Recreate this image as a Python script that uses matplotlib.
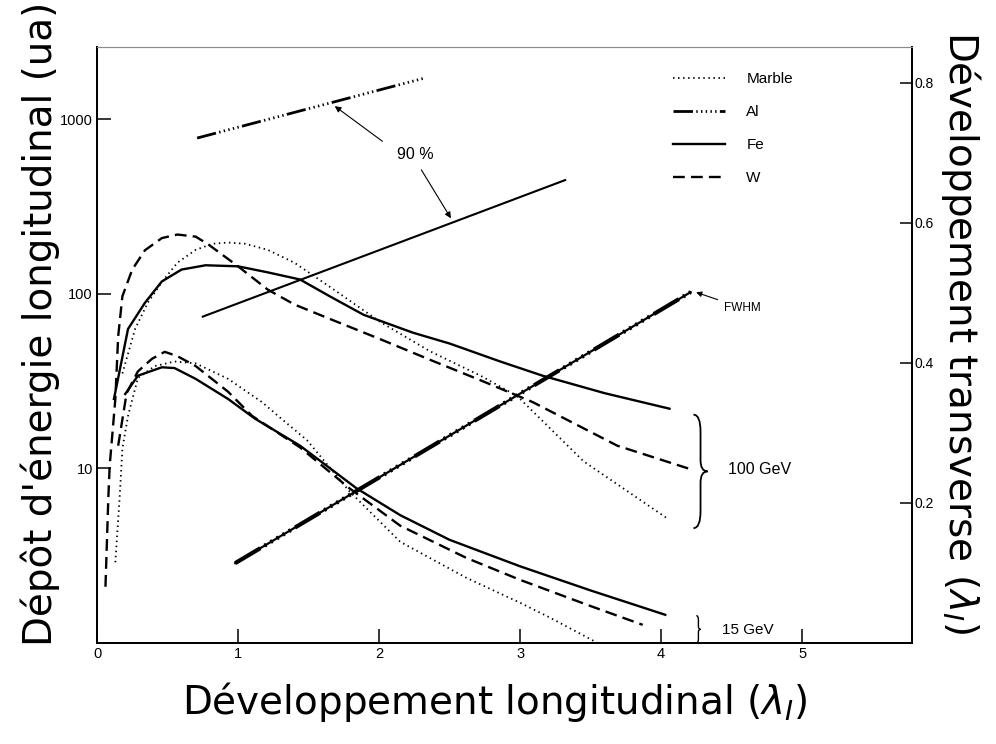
import matplotlib
matplotlib.use("Agg")
import matplotlib.pyplot as plt
from matplotlib.path import Path
from matplotlib.patches import PathPatch
from matplotlib.ticker import NullLocator

# longitudinal profiles (left axis, log scale)
fe100_x = [0.12, 0.22, 0.34, 0.46, 0.60, 0.77, 1.00, 1.21, 1.44, 1.65, 1.89, 2.24, 2.50, 2.86, 3.16, 3.60, 4.06]
fe100_y = [25, 63, 89, 118, 138, 146, 144, 133, 121, 97, 76, 60, 52, 41, 34, 27, 22]

w100_x = [0.06, 0.08, 0.09, 0.13, 0.15, 0.18, 0.25, 0.34, 0.46, 0.57, 0.70, 0.79, 1.00, 1.21, 1.40,
          1.65, 2.01, 2.36, 2.72, 3.09, 3.69, 4.21]
w100_y = [2.1, 6.7, 10.4, 25, 57, 97, 138, 178, 209, 219, 213, 192, 144, 106, 87,
          72, 55, 42, 32, 24, 13.5, 9.9]

marble100_x = [0.18, 0.27, 0.36, 0.46, 0.57, 0.70, 0.82, 0.93, 1.05, 1.21, 1.40, 1.65, 2.01, 2.36,
               2.72, 2.98, 3.45, 4.04]
marble100_y = [35, 63, 89, 117, 151, 179, 194, 197, 194, 179, 151, 110, 69, 47, 34, 26, 11, 5.2]

fe15_x = [0.20, 0.29, 0.46, 0.55, 0.70, 0.93, 1.12, 1.44, 1.84, 2.15, 2.50, 3.00, 3.50, 4.03]
fe15_y = [26.7, 34, 38, 37.6, 32.6, 25, 19.3, 13.5, 7.7, 5.4, 3.9, 2.75, 2.0, 1.45]

w15_x = [0.15, 0.21, 0.29, 0.39, 0.48, 0.57, 0.70, 0.93, 1.10, 1.44, 1.79, 2.15, 2.62, 3.00, 3.48, 3.87]
w15_y = [13.5, 27, 36, 42.5, 46.6, 44, 38.6, 27.5, 20, 13.2, 7.7, 4.7, 3.07, 2.3, 1.65, 1.27]

marble15_x = [0.13, 0.16, 0.18, 0.22, 0.29, 0.41, 0.55, 0.70, 0.93, 1.17, 1.30, 1.49, 1.79, 2.15,
              2.62, 3.00, 3.21, 3.55]
marble15_y = [2.9, 6.7, 13, 20, 33, 38.6, 41, 40, 32.6, 24, 19.5, 14.5, 7.4, 3.8, 2.36, 1.7, 1.4, 1.0]

# transverse development (right axis, linear)
al90_x = [0.71, 2.31]
al90_y = [0.721, 0.806]
fe90_x = [0.75, 3.32]
fe90_y = [0.466, 0.661]
fwhm_x = [0.98, 4.21]
fwhm_y = [0.114, 0.501]

xticks = [0, 1, 2, 3, 4, 5]
yticks_left = [10, 100, 1000]
yticks_right = [0.2, 0.4, 0.6, 0.8]

plt.rcParams['font.family'] = ['Liberation Sans', 'DejaVu Sans']

DOT = (0, (0.8, 2.0))
DASH = (0, (5, 2.6))
AL = (0, (7, 1.2, 0.5, 1.2, 0.5, 1.2, 0.5, 1.2, 0.5, 1.2, 0.5, 1.2))


def brace(axis, x, y0, y1, w, lw=1.3):
    """right facing curly brace between y0 and y1"""
    h = y1 - y0
    ym = (y0 + y1) / 2
    xm = x + w / 2
    verts = [(x, y0), (xm, y0), (xm, y0 + 0.15 * h),
             (xm, ym - 0.1 * h), (xm, ym), (x + w, ym),
             (xm, ym), (xm, ym + 0.1 * h),
             (xm, y1 - 0.15 * h), (xm, y1), (x, y1)]
    codes = [Path.MOVETO, Path.CURVE3, Path.CURVE3,
             Path.LINETO, Path.CURVE3, Path.CURVE3,
             Path.CURVE3, Path.CURVE3,
             Path.LINETO, Path.CURVE3, Path.CURVE3]
    axis.add_patch(PathPatch(Path(verts, codes), fill=False, lw=lw, color='k'))


fig = plt.figure(figsize=(9.96, 7.44), dpi=100)
ax = fig.add_axes([0.0974, 0.1358, 0.8183, 0.8010])
ax.set_yscale('log')
ax.set_xlim(0, 5.78)
ax.set_ylim(1, 2600)

l_marble, = ax.plot(marble100_x, marble100_y, color='k', lw=1.3, ls=DOT, label='Marble')
ax.plot(marble15_x, marble15_y, color='k', lw=1.3, ls=DOT)
l_fe, = ax.plot(fe100_x, fe100_y, color='k', lw=1.7, label='Fe')
ax.plot(fe15_x, fe15_y, color='k', lw=1.7)
l_w, = ax.plot(w100_x, w100_y, color='k', lw=1.7, ls=DASH, label='W')
ax.plot(w15_x, w15_y, color='k', lw=1.7, ls=DASH)

ax2 = ax.twinx()
ax2.set_ylim(0, 0.851)
l_al, = ax2.plot(al90_x, al90_y, color='k', lw=2.0, ls=AL, label='Al')
ax2.plot(fe90_x, fe90_y, color='k', lw=1.5)
ax2.plot(fwhm_x, fwhm_y, color='k', lw=1.6)
ax2.plot(fwhm_x, fwhm_y, color='k', lw=3.0, ls=AL)

# annotations
ax2.annotate('', xy=(1.67, 0.769), xytext=(2.04, 0.714),
             arrowprops=dict(arrowstyle='-|>', lw=0.8, color='k', mutation_scale=9))
ax2.annotate('', xy=(2.52, 0.603), xytext=(2.29, 0.679),
             arrowprops=dict(arrowstyle='-|>', lw=0.8, color='k', mutation_scale=9))
ax2.text(2.26, 0.697, '90 %', ha='center', va='center', fontsize=11.5)
ax2.annotate('', xy=(4.23, 0.502), xytext=(4.42, 0.489),
             arrowprops=dict(arrowstyle='-|>', lw=0.8, color='k', mutation_scale=8))
ax2.text(4.45, 0.479, 'FWHM', ha='left', va='center', fontsize=8.5)

brace(ax2, 4.23, 0.164, 0.326, 0.10)
ax2.text(4.475, 0.247, '100 GeV', ha='left', va='center', fontsize=11.5)
brace(ax2, 4.25, 0.0, 0.039, 0.03, lw=1.0)
ax2.text(4.43, 0.019, '15 GeV', ha='left', va='center', fontsize=11)

leg = ax2.legend(handles=[l_marble, l_al, l_fe, l_w], loc='upper left',
                 bbox_to_anchor=(673 / 996, 1 - 72 / 744), bbox_transform=fig.transFigure,
                 frameon=False, fontsize=11, handlelength=3.4, handletextpad=1.4,
                 labelspacing=1.25, borderpad=0, borderaxespad=0)

# ticks
ax.set_xticks(xticks)
ax.set_xticklabels([str(t) for t in xticks])
ax.set_yticks(yticks_left)
ax.set_yticklabels([str(t) for t in yticks_left])
ax.yaxis.set_minor_locator(NullLocator())
ax.tick_params(axis='both', direction='in', length=10, width=1.1, labelsize=10.5, pad=3)
ax2.set_yticks(yticks_right)
ax2.set_yticklabels([str(t) for t in yticks_right])
ax2.tick_params(axis='y', direction='in', length=9, width=1.1, labelsize=10, pad=2)

for a in (ax, ax2):
    for s in ('left', 'right', 'bottom'):
        a.spines[s].set_linewidth(1.3)
    a.spines['top'].set_linewidth(0.8)
    a.spines['top'].set_color('0.55')

big = dict(fontsize=28, family='DejaVu Sans')
fig.text(0.497, 0.057, 'Développement longitudinal ($\\lambda_I$)', ha='center', va='center', **big)
fig.text(0.040, 0.565, "Dépôt d'énergie longitudinal (ua)", ha='center', va='center',
         rotation=90, **big)
fig.text(0.965, 0.553, 'Développement transverse ($\\lambda_I$)', ha='center', va='center',
         rotation=-90, **big)

fig.savefig('out.png', dpi=100)
